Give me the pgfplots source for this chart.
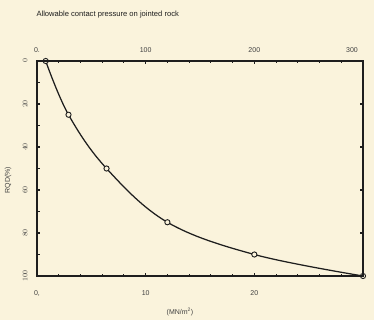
\documentclass[border=0pt]{standalone}
\usepackage{fontspec}
\setmainfont{Liberation Sans}
\usepackage{pgfplots}
\pgfplotsset{compat=1.18}
\definecolor{cream}{HTML}{FAF3DC}
\definecolor{ink}{HTML}{1E1E1E}
\begin{document}
\begin{tikzpicture}[x=1pt,y=1pt]
\fill[cream] (-37,-44) rectangle (337,276);
\path[use as bounding box] (-37,-44) rectangle (337,276);
\pgfplotsset{
  common/.style={
    at={(0,0)}, anchor=south west, scale only axis,
    width=326pt, height=215pt,
    ymin=0, ymax=100, y dir=reverse,
    axis line style={ink, line width=1.4pt},
    tick align=inside, major tick length=3pt, minor tick length=2.5pt,
    every tick/.style={ink, line width=1.1pt},
    ticklabel style={font=\fontsize{7}{8}\selectfont, text=ink!85},
    clip=false,
  }
}
\begin{axis}[common,
  xmin=0, xmax=30,
  xtick={0,10,20}, xticklabels={{0,},10,20},
  minor xtick={2,4,...,28},
  xtick pos=left,
  xticklabel shift=11pt,
  ytick={0,20,...,100}, minor ytick={10,30,...,90},
  ytick pos=left,
  yticklabel shift=6pt,
  yticklabel style={rotate=90, anchor=south},
]
\addplot[ink, line width=1.25pt, smooth, tension=0.6, mark=*, mark size=2.6pt,
  mark options={fill=cream, draw=ink, line width=0.9pt}]
  coordinates {(0.8,0) (2.9,25) (6.4,50) (12,75) (20,90) (30,100)};
\end{axis}
\begin{axis}[common,
  xmin=0, xmax=300,
  xtick={0,100,200,300}, xticklabels={0.,100,200,{\hspace*{-22pt}300}},
  minor xtick={20,40,...,280},
  xtick pos=right,
  xticklabel shift=5pt,
  ytick={20,40,60,80}, yticklabels={},
  ytick pos=right,
]
\end{axis}
\node[anchor=west, font=\fontsize{7.6}{8}\selectfont, text=ink] at (-4,261) {Allowable contact pressure on jointed rock};
\node[font=\fontsize{7}{8}\selectfont, text=ink!85] at (143,-36) {(MN/m\textsuperscript{2})};
\node[rotate=90, font=\fontsize{7}{8}\selectfont, text=ink!85] at (-29,96) {RQD(\%)};
\end{tikzpicture}
\end{document}
